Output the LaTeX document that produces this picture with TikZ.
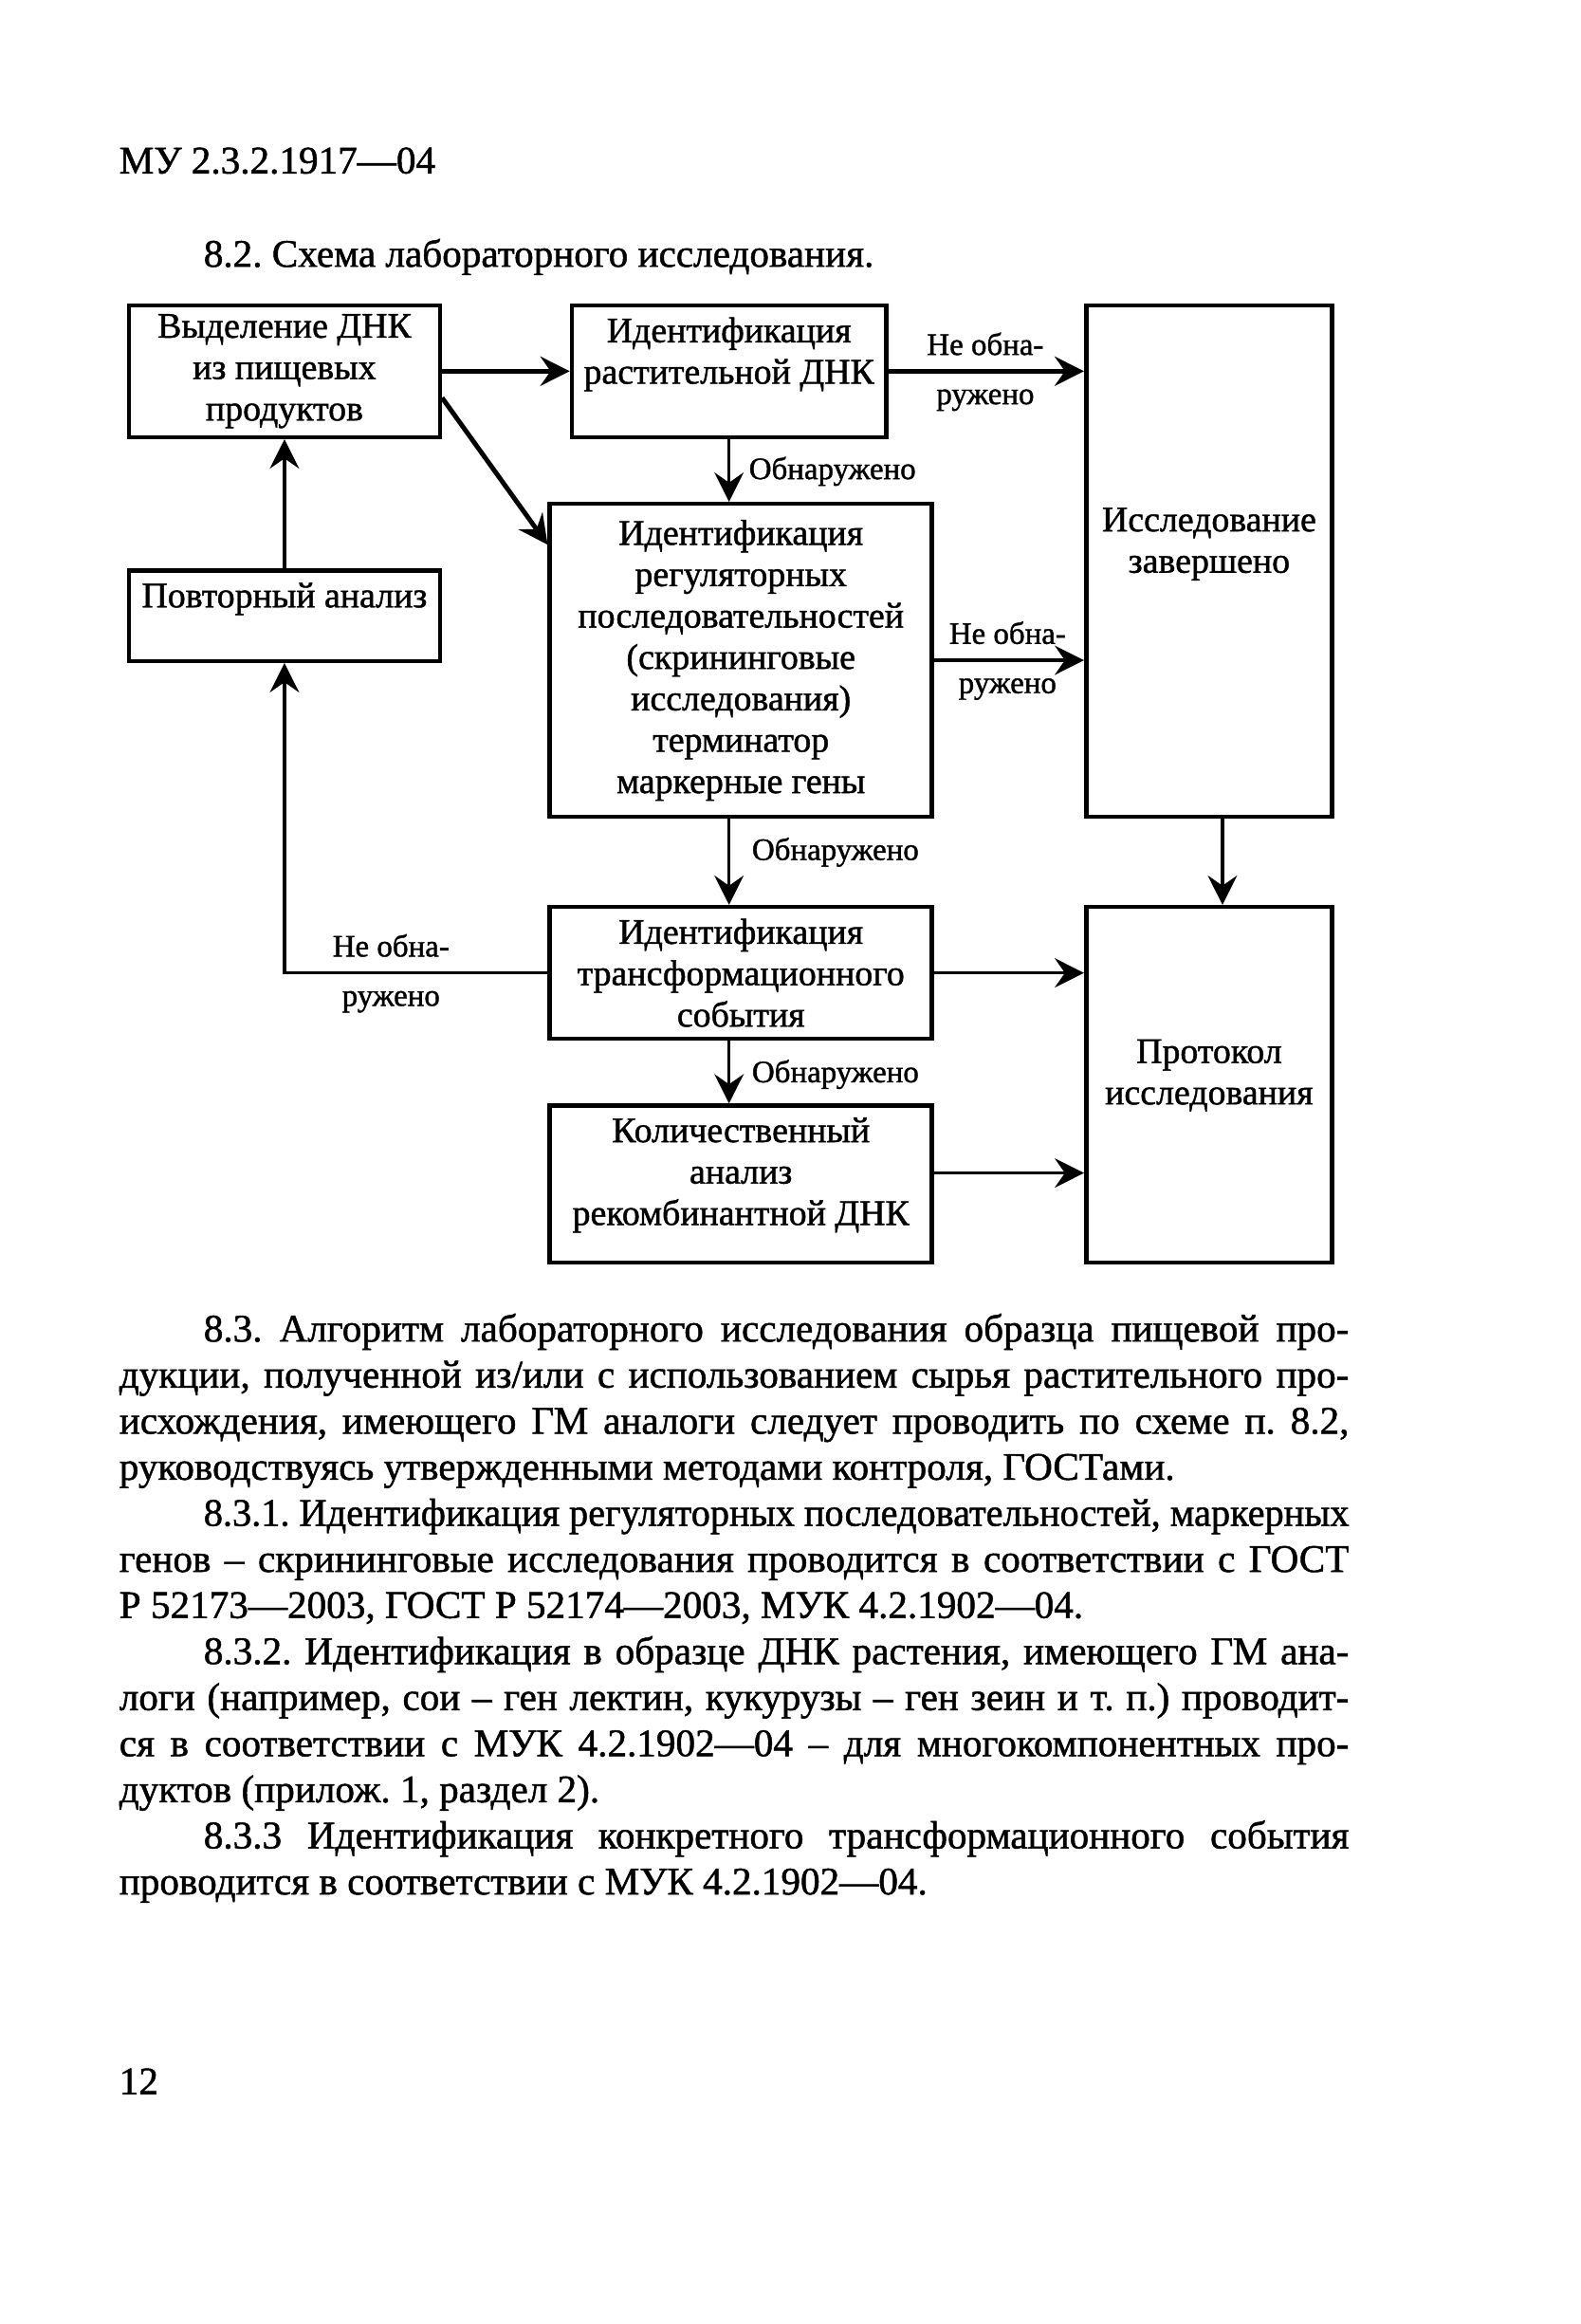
\documentclass[tikz,border=0pt]{standalone}
\usepackage{fontspec}
\setmainfont{Liberation Serif}[FakeBold=1.2]
\usepackage{calc}
\usetikzlibrary{arrows.meta}
\usetikzlibrary{positioning}
\usetikzlibrary{calc}

\newlength\parw
\setlength\parw{11.071cm}
\newlength\parind
\setlength\parind{0.76cm}
\newcommand{\jline}[1]{\makebox[\parw][s]{#1}}
\newcommand{\jlinei}[1]{\hspace*{\parind}\makebox[\parw-\parind][s]{#1}}
\newcommand{\jlinesq}[1]{\hspace*{\parind}\resizebox{\dimexpr\parw-\parind\relax}{\height}{#1}}
\newcommand{\lastline}[1]{#1}
\newcommand{\bodyfont}{\fontsize{10}{11.8}\selectfont\frenchspacing
  \spaceskip=0.25em plus 0.5em minus 0.1em\relax}

\tikzset{
  blok/.style={draw,line width=1.1pt,align=center,inner sep=1pt,font=\fontsize{9.2}{10.6}\selectfont},
  arr/.style={-{Stealth[length=7.5pt,width=7.5pt,inset=2.6pt]},line width=0.8pt},
  tarr/.style={arr,line width=1.2pt},
  lbl/.style={inner sep=0pt,font=\fontsize{8}{9.6}\selectfont},
  txt/.style={inner sep=0pt,font=\bodyfont}
}

\begin{document}
\begin{tikzpicture}
  \fill[white] (0,0) rectangle (14.2245,-20.918);
  \useasboundingbox (0,0) rectangle (14.2245,-20.918);

  \node[txt,anchor=base west] (hdr) at (1.067,-1.561) {МУ 2.3.2.1917—04};
  \node[txt,anchor=base west] (ttl) at (1.827,-2.401) {8.2. Схема лабораторного исследования.};

  \begin{scope}[every node/.style={blok}]
    \node[minimum width=2.80cm,minimum height=1.187cm] (vyd) at (2.561,-3.341) {Выделение ДНК\\из пищевых\\продуктов};
    \node[minimum width=2.83cm,minimum height=1.187cm] (rast) at (6.563,-3.341) {Идентификация\\растительной ДНК\\\mbox{}};
    \node[minimum width=2.214cm,minimum height=4.602cm] (zav) at (10.885,-5.049) {Исследование\\завершено\\\mbox{}};
    \node[minimum width=2.80cm,minimum height=0.814cm] (povt) at (2.561,-5.542) {Повторный анализ\\\mbox{}};
    \node[minimum width=3.441cm,minimum height=2.815cm] (reg) at (6.670,-5.943) {Идентификация\\регуляторных\\последовательностей\\(скрининговые\\исследования)\\терминатор\\маркерные гены};
    \node[minimum width=3.441cm,minimum height=1.187cm] (trans) at (6.670,-8.757) {Идентификация\\трансформационного\\события};
    \node[minimum width=3.441cm,minimum height=1.414cm] (kol) at (6.670,-10.658) {Количественный\\анализ\\рекомбинантной ДНК\\[-4pt]\mbox{}};
    \node[minimum width=2.214cm,minimum height=3.201cm] (prot) at (10.885,-9.764) {Протокол\\исследования\\[-4pt]\mbox{}};
  \end{scope}

  % connectors
  \draw[tarr] (vyd) -- (rast);
  \draw[tarr] ($(vyd.east)+(0,-0.24)$) -- ($(reg.north west)+(0,-0.387)$);
  \draw[arr] (rast) -- (rast |- reg.north);
  \draw[tarr] (rast.east) -- (rast.east -| zav.west);
  \draw[arr] (reg.east) -- (reg.east -| zav.west);
  \draw[arr] (rast |- reg.south) -- (rast |- trans.north);
  \coordinate (zavout) at ($(zav.south)+(0.12,0)$);
  \draw[arr] (zavout) -- (zavout |- prot.north);
  \draw[arr] (trans.east) -- (trans.east -| prot.west);
  \coordinate (kolout) at ($(kol.east)+(0,0.1)$);
  \draw[arr] (kolout) -- (kolout -| prot.west);
  \draw[arr] (trans.west) -| (povt.south);
  \draw[arr] (povt) -- (vyd);
  \draw[arr] (rast |- trans.south) -- (rast |- kol.north);

  % labels
  \node[lbl,anchor=west] (obn1) at (6.736,-4.242) {Обнаружено};
  \node[lbl] (neob1a) at (8.870,-3.095) {Не обна-};
  \node[lbl] (neob1b) at (8.870,-3.602) {ружено};
  \node[lbl] (neob2a) at (9.070,-5.696) {Не обна-};
  \node[lbl] (neob2b) at (9.070,-6.203) {ружено};
  \node[lbl,anchor=west] (obn2) at (6.763,-7.670) {Обнаружено};
  \node[lbl] (neob3a) at (3.520,-8.510) {Не обна-};
  \node[lbl] (neob3b) at (3.520,-9.017) {ружено};
  \node[lbl,anchor=west] (obn3) at (6.763,-9.671) {Обнаружено};

  \node[txt,anchor=north west,align=left] (algo) at (1.067,-11.816) {%
    \jlinei{8.3. Алгоритм лабораторного исследования образца пищевой про-}\\
    \jline{дукции, полученной из/или с использованием сырья растительного про-}\\
    \jline{исхождения, имеющего ГМ аналоги следует проводить по схеме п. 8.2,}\\
    \lastline{руководствуясь утвержденными методами контроля, ГОСТами.}\\
    \jlinesq{8.3.1. Идентификация регуляторных последовательностей, маркерных}\\
    \jline{генов – скрининговые исследования проводится в соответствии с ГОСТ}\\
    \lastline{Р 52173—2003, ГОСТ Р 52174—2003, МУК 4.2.1902—04.}\\
    \jlinei{8.3.2. Идентификация в образце ДНК растения, имеющего ГМ ана-}\\
    \jline{логи (например, сои – ген лектин, кукурузы – ген зеин и т. п.) проводит-}\\
    \jline{ся в соответствии с МУК 4.2.1902—04 – для многокомпонентных про-}\\
    \lastline{дуктов (прилож. 1, раздел 2).}\\
    \jlinei{8.3.3 Идентификация конкретного трансформационного события}\\
    \lastline{проводится в соответствии с МУК 4.2.1902—04.}};

  \node[txt,anchor=base west] (pgno) at (1.067,-18.85) {12};
\end{tikzpicture}
\end{document}
